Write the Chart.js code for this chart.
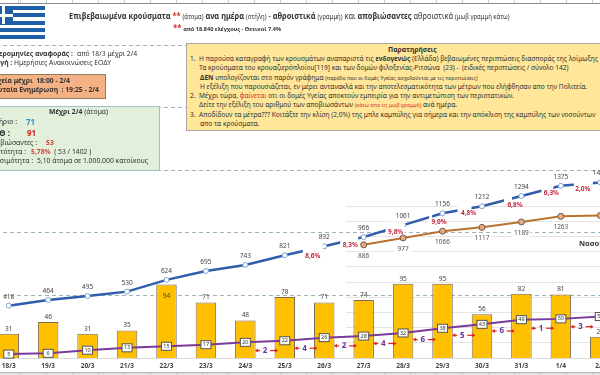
<!DOCTYPE html>
<html>
<head>
<meta charset="utf-8">
<script src="https://cdn.jsdelivr.net/npm/chart.js@4"></script>
<style>
html, body { margin: 0; padding: 0; width: 600px; height: 375px; overflow: hidden; background: #fff; }
body { position: relative; font-family: "Noto Sans", sans-serif; color: #333; }
canvas { position: absolute; left: -16px; top: 0; }
.t { position: absolute; white-space: nowrap; line-height: 1; }
.b { font-weight: 700; }
.box { position: absolute; box-sizing: border-box; }
.red { color: #d0312d; }
.s { font-size: 0.8em; }
#flag div { position: absolute; }
.cells { background: repeating-linear-gradient(90deg, #cfcfcf 0, #cfcfcf 1px, transparent 1px, transparent 26px); background-position: 20px 0; }
</style>
</head>
<body>
<canvas id="chart" width="641" height="375"></canvas>

<!-- επάνω γραμμή -->
<div class="box cells" style="left:0;top:0;width:600px;height:3px"></div>
<div class="box" style="left:0;top:3px;width:600px;height:1px;background:#8c8c8c"></div>
<div class="box cells" style="left:0;top:372px;width:600px;height:3px;background-color:#e3e3e3;border-top:1px solid #b5b5b5"></div>

<!-- σημαία -->
<div id="flag">
  <div style="left:0;top:6px;width:45px;height:33px;background:#fff"></div>
  <div style="left:0;top:6px;width:45px;height:4px;background:#1f5fa8"></div>
  <div style="left:0;top:13px;width:45px;height:4px;background:#1f5fa8"></div>
  <div style="left:0;top:21px;width:45px;height:4px;background:#1f5fa8"></div>
  <div style="left:0;top:28px;width:45px;height:4px;background:#1f5fa8"></div>
  <div style="left:0;top:35px;width:45px;height:4px;background:#1f5fa8"></div>
  <div style="left:0;top:6px;width:13px;height:18px;background:#1f5fa8"></div>
  <div style="left:0;top:14px;width:13px;height:3px;background:#fff"></div>
  <div style="left:2px;top:6px;width:3px;height:18px;background:#fff"></div>
</div>

<!-- τίτλος -->
<div class="t" style="left:69px;top:12px;font-size:8px;transform:scaleX(.93);transform-origin:left top">
  <span class="b">Επιβεβαιωμένα κρούσματα</span> <span class="b red">**</span> <span class="s">(άτομα)</span>
  <span class="b">ανα ημέρα</span> <span class="s">(στήλη)</span> - <span class="b">αθροιστικά</span> <span class="s">(γραμμή)</span>
  και <span class="b">αποβιώσαντες</span> αθροιστικά <span class="s">(μωβ γραμμή κάτω)</span>
</div>
<div class="t b" style="left:173px;top:24px;font-size:5.6px"><span class="red" style="font-size:8px">**</span> από 18.840 ελέγχους - Θετικοί 7.4%</div>

<!-- στοιχεία αριστερά -->
<div class="t" style="right:527px;top:51px;font-size:6.8px"><span class="b">Ημερομηνίες αναφοράς :</span></div>
<div class="t" style="left:77px;top:51px;font-size:6.8px">από 18/3 μέχρι 2/4</div>
<div class="t" style="right:489px;top:60px;font-size:6.8px"><span class="b">Πηγή :</span> Ημερήσιες Ανακοινώσεις ΕΟΔΥ</div>

<div class="box" style="left:-2px;top:74px;width:108px;height:25px;background:#f4b183;border:1px solid #8d7b62"></div>
<div class="t b" style="right:530px;top:78px;font-size:6.8px">Στοιχεία μέχρι &nbsp;18:00 - 2/4</div>
<div class="t b" style="right:501px;top:87px;font-size:6.8px">Τελευταία Ενημέρωση &nbsp;: 19:25 - 2/4</div>

<div class="box" style="left:-2px;top:106px;width:162px;height:65px;background:#e2efda;border:1px solid #9cc3c9"></div>
<div class="t" style="left:49px;top:109px;font-size:6.8px"><span class="b">Μέχρι 2/4</span> (άτομα)</div>
<div class="t" style="right:583px;top:119px;font-size:6.8px">Νοσηλευτήριο :</div>
<div class="t b" style="left:26px;top:118px;font-size:8px;color:#3a8fcf">71</div>
<div class="t b" style="right:590px;top:129px;font-size:8px">ΜΕΘ :</div>
<div class="t b" style="left:27px;top:129px;font-size:8px;color:#c8281e">91</div>
<div class="t" style="right:563px;top:140px;font-size:6.8px">Αποβιώσαντες :</div>
<div class="t b" style="left:46px;top:140px;font-size:6.8px;color:#d0453a">53</div>
<div class="t" style="right:574px;top:149px;font-size:6.8px">Θνητότητα :</div>
<div class="t" style="left:31px;top:149px;font-size:6.8px"><span class="b" style="color:#d0453a">5,78%</span> &nbsp;( 53 / 1402 )</div>
<div class="t" style="right:567px;top:158px;font-size:6.8px">Θνησιμότητα :</div>
<div class="t" style="left:37px;top:158px;font-size:6.8px">5,10 άτομα σε 1.000.000 κατοίκους</div>

<!-- παρατηρήσεις -->
<div class="box" style="left:186px;top:43px;width:420px;height:88px;background:#ffe699;border:1px solid #a9a9a9"></div>
<div class="t b" style="left:388px;top:47px;font-size:6.8px">Παρατηρήσεις</div>
<div class="t" style="left:190px;top:56px;font-size:6.6px">1.</div>
<div class="t" style="left:199px;top:56px;font-size:6.6px">Η παρούσα καταγραφή των κρουσμάτων αναπαριστά τις <span class="b">ενδογενώς</span> (Ελλάδα) βεβαιωμένες περιπτώσεις διασποράς της λοίμωξης</div>
<div class="t" style="left:199px;top:65px;font-size:6.6px">Τα κρούσματα του κρουαζιερόπλοίου[119] και των δομών φιλοξενίας-Ριτσώνα &nbsp;(23) - &nbsp;(ειδικές περιπτώσεις / σύνολο 142)</div>
<div class="t" style="left:200px;top:75px;font-size:6.6px"><span class="b">ΔΕΝ</span> υπολογίζονται στο παρόν γράφημα <span class="s">(παρόλο που οι δομές Υγείας ασχολούνται με τις περιπτώσεις)</span></div>
<div class="t" style="left:200px;top:84px;font-size:6.6px">Η εξέλιξη που παρουσιάζεται, εν μέρει αντανακλά και την αποτελεσματικότητα των μέτρων που ελήφθησαν απο την Πολιτεία.</div>
<div class="t" style="left:190px;top:93px;font-size:6.6px">2.</div>
<div class="t" style="left:199px;top:93px;font-size:6.6px">Μέχρι τώρα, <span class="red">φαίνεται</span> οτι οι δομές Υγείας αποκτούν εμπειρία για την αντιμετώπιση των περιστατικών.</div>
<div class="t" style="left:199px;top:102px;font-size:6.6px">Δείτε την εξέλιξη του αριθμού των αποβιωσάντων <span class="s red">(κάτω απο τη μωβ γραμμή)</span> ανά ημέρα.</div>
<div class="t" style="left:190px;top:112px;font-size:6.6px">3.</div>
<div class="t" style="left:199px;top:112px;font-size:6.6px">Αποδίδουν τα μέτρα??? Κοιτάξτε την κλίση (2,0%) της μπλε καμπύλης για σήμερα και την απόκλιση της καμπύλης των νοσούντων</div>
<div class="t" style="left:200px;top:121px;font-size:6.6px">απο τα κρούσματα.</div>

<div class="t b" style="left:579px;top:240px;font-size:7.5px">Νοσούντες</div>

<script>
// δεδομένα
const days = ['18/3','19/3','20/3','21/3','22/3','23/3','24/3','25/3','26/3','27/3','28/3','29/3','30/3','31/3','1/4','2/4'];
const dailyCases = [31,46,31,35,94,71,48,78,71,74,95,95,56,82,81,27];
const totalCases = [418,464,495,530,624,695,743,821,892,966,1061,1156,1212,1294,1375,1402];
const activeCases = [null,null,null,null,null,null,null,null,null,886,977,1066,1117,1189,1263,1275];
const totalDeaths = [5,6,10,13,15,17,20,22,26,28,32,38,43,49,50,53];
const growthLabels = [null,null,null,null,null,null,null,'8,6%','8,3%','9,8%','9,0%','4,8%','6,8%','6,3%','2,0%',null];
const deathDiffs = [null,null,null,null,null,null,2,4,2,4,6,5,6,1,3,null];

// θέσεις ετικετών % σε px από το σημείο: αρχή κενού, τέλος κενού, dx, dy
const growthPlace = {
  7: [18, 38, 28, 7],
  8: [16, 34, 26, 5],
  9: [22, 41, 32, 4.5],
  10: [26, 29, 36, 7.5],
  11: [15, 29, 26, 4],
  12: [22, 30, 33, 7],
  13: [20, 32, 30, 4.5],
  14: [13, 32, 22, 5]
};

const FONT = '"Noto Sans", sans-serif';

const labelsPlugin = {
  id: 'labels',
  beforeDatasetsDraw(chart) {
    // αχνές γραμμές του μικρού γραφήματος νοσούντων
    const c = chart.ctx, sc = chart.scales.yActive;
    c.save();
    c.strokeStyle = '#e4e4e4';
    c.lineWidth = 1;
    for (let v = -400; v <= 1400; v += 200) {
      const y = Math.round(sc.getPixelForValue(v)) + 0.5;
      c.beginPath();
      c.moveTo(362, y);
      c.lineTo(641, y);
      c.stroke();
    }
    c.restore();
  },
  afterDatasetsDraw(chart) {
    const c = chart.ctx;
    const x = chart.scales.x, yL = chart.scales.yLeft, yR = chart.scales.yRight, yA = chart.scales.yActive;
    c.save();
    c.textAlign = 'center';
    c.textBaseline = 'middle';

    // ποσοστά πάνω στη μπλε γραμμή
    growthLabels.forEach(function(txt, i) {
      if (!txt) return;
      const p = growthPlace[i];
      const x0 = x.getPixelForValue(i);
      const y0 = yL.getPixelForValue(totalCases[i]);
      const y1 = yL.getPixelForValue(totalCases[i + 1]);
      const step = x.getPixelForValue(i + 1) - x0;
      const yMid = y0 + (y1 - y0) * (p[0] + p[1]) / 2 / step;
      c.fillStyle = '#fff';
      c.fillRect(x0 + p[0], yMid - 6, p[1] - p[0], 12);
      c.fillStyle = '#c8283c';
      c.font = 'bold 6.5px ' + FONT;
      c.fillText(txt, x0 + p[2], y0 + p[3] + (y1 - y0) * p[2] / step);
    });

    // τιμές πάνω από τη μπλε γραμμή
    c.font = '6.5px ' + FONT;
    c.fillStyle = '#444';
    totalCases.forEach(function(v, i) {
      c.fillText(v, x.getPixelForValue(i), yL.getPixelForValue(v) - 9);
    });

    // τιμές νοσούντων
    activeCases.forEach(function(v, i) {
      if (v === null || i === 15) return;
      const px = x.getPixelForValue(i), py = yA.getPixelForValue(v) + 11;
      c.fillStyle = '#fff';
      c.fillRect(px - 9, py - 4, 18, 8);
      c.fillStyle = '#555';
      c.fillText(v, px, py);
    });

    // τιμές στηλών
    c.fillStyle = '#444';
    dailyCases.forEach(function(v, i) {
      const py = yR.getPixelForValue(v);
      c.fillText(v, x.getPixelForValue(i), v === 94 ? py + 12 : py - 5);
    });

    // κουτάκια αποβιωσάντων
    totalDeaths.forEach(function(v, i) {
      const px = x.getPixelForValue(i), py = yR.getPixelForValue(v);
      c.fillStyle = '#fff';
      c.strokeStyle = '#555';
      c.lineWidth = 1;
      c.fillRect(px - 5, py - 4, 10, 8);
      c.strokeRect(px - 5, py - 4, 10, 8);
      c.fillStyle = '#333';
      c.font = '5.5px ' + FONT;
      c.fillText(v, px, py);
    });

    // ημερήσιες διαφορές με κόκκινα βέλη
    deathDiffs.forEach(function(v, i) {
      if (v === null) return;
      const px = (x.getPixelForValue(i) + x.getPixelForValue(i + 1)) / 2;
      const py = (yR.getPixelForValue(totalDeaths[i]) + yR.getPixelForValue(totalDeaths[i + 1])) / 2 + 9;
      c.fillStyle = '#7030a0';
      c.font = 'bold 8px ' + FONT;
      c.fillText(v, px, py);
      c.strokeStyle = '#e0201c';
      c.fillStyle = '#e0201c';
      c.lineWidth = 1.2;
      [[-5, -8], [5, 11]].forEach(function(a) {
        c.beginPath();
        c.moveTo(px + a[0], py);
        c.lineTo(px + a[1], py);
        c.stroke();
        const dir = a[1] > a[0] ? 1 : -1;
        c.beginPath();
        c.moveTo(px + a[1] + dir * 2, py);
        c.lineTo(px + a[1] - dir, py - 2);
        c.lineTo(px + a[1] - dir, py + 2);
        c.closePath();
        c.fill();
      });
    });
    c.restore();
  }
};

new Chart(document.getElementById('chart').getContext('2d'), {
  data: {
    labels: days,
    datasets: [{
      type: 'line',
      label: 'Αθροιστικά κρούσματα',
      data: totalCases,
      yAxisID: 'yLeft',
      borderColor: '#2f5cab',
      borderWidth: 2.5,
      pointBackgroundColor: '#fff',
      pointBorderColor: '#7fa3d0',
      pointBorderWidth: 1,
      pointRadius: 2.5,
      tension: 0,
      order: 2
    }, {
      type: 'line',
      label: 'Νοσούντες',
      data: activeCases,
      yAxisID: 'yActive',
      borderColor: '#b9722f',
      borderWidth: 2,
      pointBackgroundColor: '#eaa97f',
      pointBorderColor: '#6f5a45',
      pointBorderWidth: 1,
      pointRadius: 3,
      tension: 0,
      order: 2
    }, {
      type: 'line',
      label: 'Αποβιώσαντες',
      data: totalDeaths,
      yAxisID: 'yRight',
      borderColor: '#7a3a9c',
      borderWidth: 2,
      pointRadius: 0,
      tension: 0,
      order: 1
    }, {
      type: 'bar',
      label: 'Κρούσματα ανά ημέρα',
      data: dailyCases,
      yAxisID: 'yRight',
      backgroundColor: '#ffc000',
      borderColor: '#7b6a55',
      borderWidth: 1,
      barPercentage: 0.52,
      categoryPercentage: 1,
      order: 3
    }]
  },
  options: {
    responsive: false,
    animation: false,
    layout: { padding: { top: 45, left: 0, right: 0, bottom: 0 } },
    plugins: { legend: { display: false }, tooltip: { enabled: false } },
    scales: {
      x: {
        afterFit: function(s) { s.height = 17; },
        grid: { display: false, drawTicks: false },
        border: { color: '#d9d9d9' },
        ticks: { color: '#444', padding: 4, maxRotation: 0, autoSkip: false, font: { size: 6.5, weight: 'bold', family: FONT } }
      },
      yLeft: {
        position: 'left',
        min: 0,
        max: 2500,
        afterFit: function(s) { s.width = 0; },
        ticks: { display: false, stepSize: 500 },
        border: { display: false, dash: [4, 3] },
        grid: { color: '#9db2bf', drawTicks: false, lineWidth: 1 }
      },
      yRight: {
        position: 'right',
        display: false,
        min: 0,
        max: 400
      },
      yActive: {
        position: 'right',
        display: false,
        min: -613,
        max: 3532
      }
    }
  },
  plugins: [labelsPlugin]
});
</script>
</body>
</html>
